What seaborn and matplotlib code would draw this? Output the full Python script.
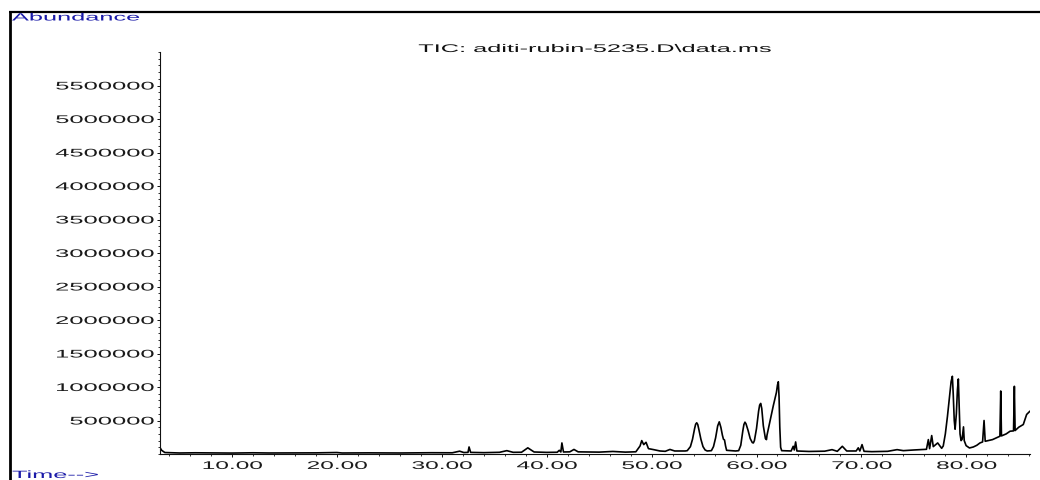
import matplotlib
matplotlib.use("Agg")
import numpy as np
import pandas as pd
import matplotlib.pyplot as plt
import seaborn as sns
from matplotlib.patheffects import AbstractPathEffect
from matplotlib.transforms import Affine2D
from matplotlib.lines import Line2D
from matplotlib.ticker import FixedLocator, MultipleLocator, FormatStrFormatter

# ---------------- data ----------------
times = [3.14, 3.3, 3.6, 5.0, 6.5, 8.0, 10.0, 12.0, 13.5, 15.0, 18.0, 20.0, 20.5,
         23.0, 26.0, 29.0, 31.0, 31.7, 32.1, 32.5, 32.6, 32.75, 34.0, 35.5, 36.2,
         36.8, 37.6, 38.2, 38.8, 40.0, 41.0, 41.2, 41.35, 41.45, 41.6, 42.2, 42.6,
         43.0, 45.0, 46.3, 47.5, 48.5, 48.9, 49.06, 49.25, 49.47, 49.7, 50.2, 50.8,
         51.3, 51.75, 52.2, 53.2,
         53.4, 53.7, 53.9, 54.1, 54.2, 54.3, 54.4, 54.5, 54.7, 54.9, 55.1, 55.3,
         55.7, 55.9, 56.1, 56.3, 56.45, 56.6, 56.75, 56.85, 56.95, 57.05, 57.15,
         58.0, 58.3, 58.5, 58.7, 58.8, 58.9, 59.0, 59.2, 59.4, 59.6, 59.7,
         59.8, 60.0, 60.2, 60.3, 60.4, 60.5, 60.65, 60.85, 60.95,
         61.0, 61.3, 61.6, 61.9, 62.0, 62.08, 62.15, 62.22, 62.3, 62.4,
         63.3, 63.5, 63.6, 63.73, 63.85, 65.0, 66.5, 67.2, 67.7, 68.18, 68.6, 69.5,
         69.7, 69.85, 70.06, 70.25, 71.0, 72.5, 73.4, 74.0, 75.0, 76.2, 76.38, 76.5,
         76.7, 76.85, 77.27, 77.65,
         77.8, 78.0, 78.2, 78.4, 78.55, 78.67, 78.75, 78.85, 78.93, 79.05, 79.15,
         79.24, 79.32, 79.4, 79.5, 79.6, 79.73, 79.8, 79.98,
         80.3, 80.67, 81.0, 81.3, 81.55, 81.69, 81.8, 82.5, 83.2, 83.28, 83.35,
         83.8, 84.17, 84.5, 84.58, 84.65, 85.0, 85.43, 85.75, 86.07]
abundance = [95000, 55000, 22000, 15000, 18000, 16000, 14000, 18000, 15000, 16000,
             17000, 22000, 15000, 17000, 15000, 19000, 18000, 42000, 22000, 24000,
             105000, 24000, 20000, 25000, 50000, 25000, 26000, 92000, 30000, 24000,
             26000, 55000, 30000, 165000, 30000, 32000, 68000, 32000, 28000, 38000,
             28000, 33000, 120000, 200000, 140000, 175000, 80000, 65000, 45000,
             40000, 68000, 45000, 45000,
             50000, 110000, 220000, 380000, 445000, 466000, 440000, 370000, 220000,
             110000, 60000, 45000,
             50000, 110000, 240000, 420000, 480000, 400000, 280000, 220000, 210000,
             120000, 55000,
             45000, 50000, 130000, 350000, 440000, 475000, 450000, 350000, 230000,
             170000, 165000,
             200000, 380000, 640000, 730000, 755000, 680000, 420000, 230000, 215000,
             280000, 500000, 720000, 920000, 1030000, 1078000, 850000, 400000,
             100000, 50000,
             45000, 115000, 60000, 180000, 45000, 38000, 42000, 65000, 40000, 115000,
             45000, 45000, 92000, 45000, 140000, 40000, 35000, 40000, 65000, 50000,
             60000, 70000, 215000, 80000, 275000, 110000, 165000, 85000,
             120000, 300000, 560000, 850000, 1080000, 1160000, 900000, 500000,
             370000, 600000, 950000, 1120000, 700000, 300000, 200000, 220000,
             405000, 200000, 125000,
             90000, 105000, 130000, 165000, 180000, 500000, 190000, 215000, 265000,
             940000, 270000, 300000, 340000, 345000, 1010000, 350000, 400000, 440000,
             590000, 640000]

x_ticks = [10, 20, 30, 40, 50, 60, 70, 80]
y_ticks = [500000, 1000000, 1500000, 2000000, 2500000, 3000000,
           3500000, 4000000, 4500000, 5000000, 5500000]
title_text = "TIC: aditi-rubin-5235.D\\data.ms"
y_label = "Abundance"
x_label = "Time-->"

# ---------------- horizontally stretched text rendering ----------------
class HStretch(AbstractPathEffect):
    def __init__(self, sx=2.2, ha="left"):
        super().__init__()
        self.sx = sx
        self.ha = ha

    def draw_path(self, renderer, gc, tpath, affine, rgbFace=None):
        ext = tpath.get_extents()
        w = ext.x1
        if self.ha == "right":
            shift = -(self.sx - 1.0) * w
        elif self.ha == "center":
            shift = -(self.sx - 1.0) * w / 2.0
        else:
            shift = 0.0
        pre = Affine2D().scale(self.sx, 1.0).translate(shift, 0.0)
        renderer.draw_path(gc, tpath, pre + affine, rgbFace)


sns.set_theme(style="white")
plt.rcParams["font.family"] = ["Liberation Sans", "DejaVu Sans"]

W, H = 1040, 480
fig = plt.figure(figsize=(W / 100, H / 100), dpi=100)
fig.patch.set_facecolor("white")

ax_left, ax_right, ax_top, ax_bottom = 160, 1030, 52, 454
ax = fig.add_axes([ax_left / W, 1 - ax_bottom / H,
                   (ax_right - ax_left) / W, (ax_bottom - ax_top) / H])
ax.set_facecolor("white")

df = pd.DataFrame({"time": times, "abundance": abundance})
sns.lineplot(data=df, x="time", y="abundance", color="black", linewidth=1.2,
             estimator=None, sort=False, ax=ax, legend=False)

ax.set_xlim(3.14, 86.07)
ax.set_ylim(0, 6.0e6)
ax.set_xlabel("")
ax.set_ylabel("")

for s in ["top", "right"]:
    ax.spines[s].set_visible(False)
for s in ["left", "bottom"]:
    ax.spines[s].set_color("#111111")
    ax.spines[s].set_linewidth(0.8)

ax.xaxis.set_major_locator(FixedLocator(x_ticks))
ax.xaxis.set_minor_locator(MultipleLocator(2))
ax.xaxis.set_major_formatter(FormatStrFormatter("%.2f"))
ax.yaxis.set_major_locator(FixedLocator(y_ticks))
ax.yaxis.set_minor_locator(MultipleLocator(100000))
ax.yaxis.set_major_formatter(FormatStrFormatter("%d"))

ax.tick_params(axis="both", which="major", direction="out", length=2.5, width=0.7,
               color="#111111", labelsize=8, labelcolor="#1a1a1a", pad=2,
               bottom=True, left=True)
ax.tick_params(axis="both", which="minor", direction="out", length=1.4, width=0.6,
               color="#111111", bottom=True, left=True)
ax.tick_params(axis="x", which="major", pad=2.5)
ax.grid(False)

# figure frame (top and left lines)
fig.add_artist(Line2D([10 / W, 10 / W], [0, 1 - 12 / H], transform=fig.transFigure,
                      color="black", linewidth=2.0, solid_capstyle="butt"))
fig.add_artist(Line2D([9 / W, 1.0], [1 - 12 / H, 1 - 12 / H], transform=fig.transFigure,
                      color="black", linewidth=1.6, solid_capstyle="butt"))

blue = "#1a1aa8"
fig.text(12 / W, 1 - 20.5 / H, y_label, ha="left", va="baseline", fontsize=7.6,
         color=blue, path_effects=[HStretch(2.4, "left")])
fig.text(12 / W, 1 - 478 / H, x_label, ha="left", va="baseline", fontsize=7.6,
         color=blue, path_effects=[HStretch(2.4, "left")])
fig.text(595 / W, 1 - 52 / H, title_text, ha="center", va="baseline", fontsize=8,
         color="#111111", path_effects=[HStretch(2.28, "center")])

fig.canvas.draw()
for t in ax.xaxis.get_major_ticks():
    t.label1.set_path_effects([HStretch(2.2, "center")])
for t in ax.yaxis.get_major_ticks():
    t.label1.set_path_effects([HStretch(2.3, "right")])

fig.savefig("out.png", dpi=100, facecolor="white")
